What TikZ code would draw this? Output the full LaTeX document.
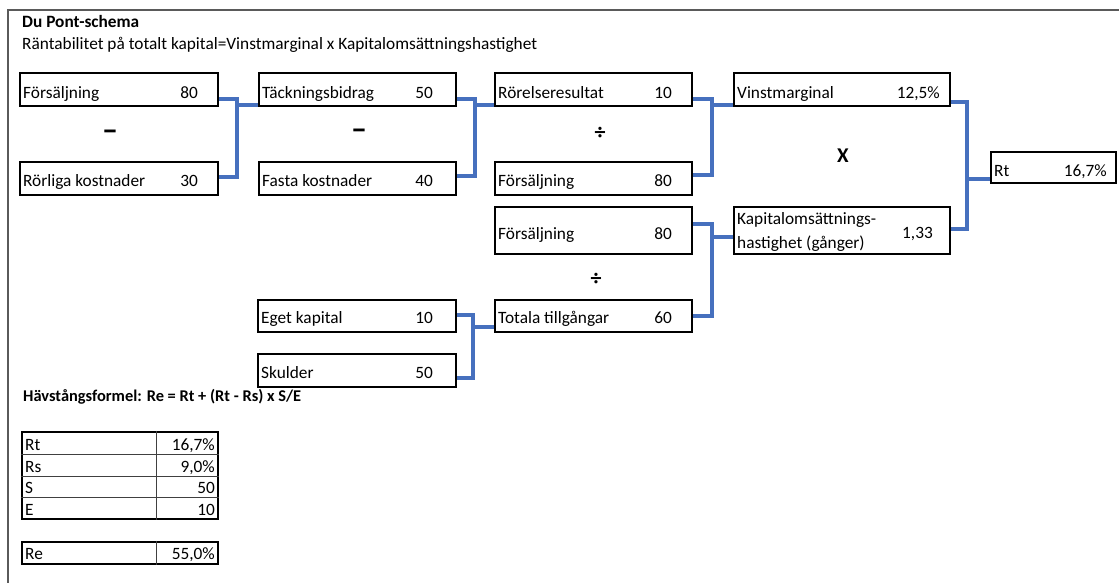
\documentclass[tikz,border=0pt]{standalone}
\usepackage{fontspec}
\setmainfont{Carlito}
\usetikzlibrary{backgrounds}
\definecolor{linkblue}{RGB}{70,112,190}
\definecolor{framegray}{RGB}{90,90,90}
\newcommand{\fs}{\fontsize{17.3pt}{20pt}\selectfont}
\begin{document}
\begin{tikzpicture}[x=1pt,y=-1pt,
  every node/.style={font=\fs},
  box/.style={draw=black, line width=2.8pt, inner sep=0pt},
  lbl/.style={anchor=base west, inner sep=0pt},
  val/.style={anchor=base east, inner sep=0pt},
  link/.style={draw=linkblue, line width=3.2pt},
  tbl/.style={draw=black, line width=2.6pt, inner sep=0pt},
  grid/.style={draw=black!75, line width=1pt},
  oper/.style={anchor=base, inner sep=0pt}]
\useasboundingbox (0,0) rectangle (1119,583);
% frame
\draw[framegray, line width=1.8pt] (8,583) -- (8,10) -- (1119,10);
% headings
\node[lbl, font=\fs\bfseries] (title) at (22,28) {Du Pont-schema};
\node[lbl] (subtitle) at (22,50) {Räntabilitet på totalt kapital=Vinstmarginal x Kapitalomsättningshastighet};
% boxes
\node[box, minimum width=198pt, minimum height=33pt] (f1) at (119,89.5) {};
\node[box, minimum width=198pt, minimum height=33pt] (r1) at (119,178.5) {};
\node[box, minimum width=197pt, minimum height=33pt] (t1) at (357.5,89.5) {};
\node[box, minimum width=197pt, minimum height=33pt] (fk) at (357.5,178.5) {};
\node[box, minimum width=197pt, minimum height=33pt] (ro) at (593.5,89.5) {};
\node[box, minimum width=197pt, minimum height=33pt] (f2) at (593.5,178.5) {};
\node[box, minimum width=216pt, minimum height=33pt] (vm) at (842,89.5) {};
\node[box, minimum width=125pt, minimum height=31pt] (rt) at (1053.5,167.5) {};
\node[box, minimum width=197pt, minimum height=47pt] (f3) at (593.5,230.5) {};
\node[box, minimum width=216pt, minimum height=47pt] (ko) at (842,230.5) {};
\node[box, minimum width=198pt, minimum height=32pt] (ek) at (357,316) {};
\node[box, minimum width=197pt, minimum height=32pt] (tt) at (593.5,316) {};
\node[box, minimum width=198pt, minimum height=33pt] (sk) at (357,370.5) {};
% box texts
\node[lbl] (f1l) at (23,99) {Försäljning};
\node[val] (f1v) at (198,99) {80};
\node[lbl] (r1l) at (23,186) {Rörliga kostnader};
\node[val] (r1v) at (198,186) {30};
\node[lbl] (t1l) at (262,99) {Täckningsbidrag};
\node[val] (t1v) at (433,99) {50};
\node[lbl] (fkl) at (262,186) {Fasta kostnader};
\node[val] (fkv) at (433,186) {40};
\node[lbl] (rol) at (498,99) {Rörelseresultat};
\node[val] (rov) at (672,99) {10};
\node[lbl] (f2l) at (498,186) {Försäljning};
\node[val] (f2v) at (672,186) {80};
\node[lbl] (vml) at (737,99) {Vinstmarginal};
\node[val] (vmv) at (940,99) {12,5\%};
\node[lbl] (rtl) at (994,176) {Rt};
\node[val] (rtv) at (1107,176) {16,7\%};
\node[lbl] (f3l) at (498,239) {Försäljning};
\node[val] (f3v) at (672,239) {80};
\node[lbl] (kol1) at (737,224) {Kapitalomsättnings-};
\node[lbl] (kol2) at (737,248) {hastighet (gånger)};
\node[val] (kov) at (933,238) {1,33};
\node[lbl] (ekl) at (261,323) {Eget kapital};
\node[val] (ekv) at (433,323) {10};
\node[lbl] (ttl) at (498,323) {Totala tillgångar};
\node[val] (ttv) at (672,323) {60};
\node[lbl] (skl) at (261,378) {Skulder};
\node[val] (skv) at (433,378) {50};
% operators
\node[oper, font=\fontsize{32pt}{34pt}\selectfont\bfseries] (op1) at (110,141) {–};
\node[oper, font=\fontsize{32pt}{34pt}\selectfont\bfseries] (op2) at (359,140) {–};
\node[oper, font=\fontsize{22pt}{24pt}\selectfont\bfseries] (op3) at (600,140) {÷};
\node[oper, font=\fontsize{21pt}{24pt}\selectfont\bfseries] (op4) at (843,162) {X};
\node[oper, font=\fontsize{22pt}{24pt}\selectfont\bfseries] (op5) at (596,285) {÷};
% connectors
\coordinate (jA) at (237,105);
\coordinate (jB) at (475,105);
\coordinate (jC) at (712,105);
\coordinate (jD) at (967,179);
\coordinate (jE) at (712,237);
\coordinate (jF) at (473,327);
\begin{pgfonlayer}{background}
\draw[link] (f1.east |- 0,99) -| (jA) |- (r1.east |- 0,177);
\draw[link] (jA) -- (t1.west |- jA);
\draw[link] (t1.east |- 0,99) -| (jB) |- (fk.east |- 0,176);
\draw[link] (jB) -- (ro.west |- jB);
\draw[link] (ro.east |- 0,99) -| (jC) |- (f2.east |- 0,175);
\draw[link] (jC) -- (vm.west |- jC);
\draw[link] (vm.east |- 0,102) -| (jD) |- (ko.east |- 0,229);
\draw[link] (jD) -- (rt.west |- jD);
\draw[link] (f3.east |- 0,224) -| (jE) |- (tt.east |- 0,316);
\draw[link] (jE) -- (ko.west |- jE);
\draw[link] (ek.east |- 0,315) -| (jF) |- (sk.east |- 0,378);
\draw[link] (jF) -- (tt.west |- jF);
\end{pgfonlayer}
% leverage formula
\node[lbl, font=\fontsize{16.4pt}{19pt}\selectfont\bfseries] (lev) at (23,401) {Hävstångsformel: Re = Rt + (Rt - Rs) x S/E};
\node[tbl, minimum width=196pt, minimum height=87pt] (tab) at (120,475.5) {};
\draw[grid] (tab.north -| 156,0) -- (tab.south -| 156,0);
\draw[grid] (tab.west |- 0,454) -- (tab.east |- 0,454);
\draw[grid] (tab.west |- 0,476) -- (tab.east |- 0,476);
\draw[grid] (tab.west |- 0,497) -- (tab.east |- 0,497);
\node[lbl] (c1l) at (25,450) {Rt};
\node[val] (c1v) at (215,450) {16,7\%};
\node[lbl] (c2l) at (25,472) {Rs};
\node[val] (c2v) at (215,472) {9,0\%};
\node[lbl] (c3l) at (25,493) {S};
\node[val] (c3v) at (215,493) {50};
\node[lbl] (c4l) at (25,515) {E};
\node[val] (c4v) at (215,515) {10};
\node[tbl, minimum width=196pt, minimum height=22pt] (retab) at (120,553) {};
\draw[grid] (retab.north -| 156,0) -- (retab.south -| 156,0);
\node[lbl] (rel) at (25,559) {Re};
\node[val] (rev) at (215,559) {55,0\%};
\end{tikzpicture}
\end{document}
